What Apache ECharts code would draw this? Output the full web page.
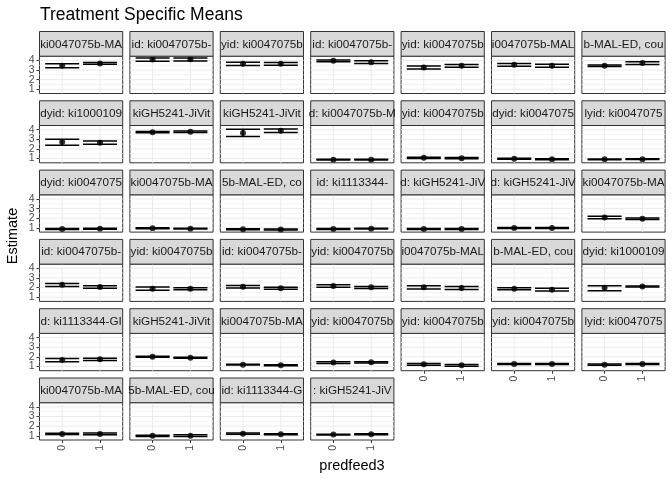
<!DOCTYPE html>
<html><head><meta charset="utf-8">
<script src="https://cdn.jsdelivr.net/npm/echarts@6/dist/echarts.min.js"></script>
<style>html,body{margin:0;padding:0;background:#fff}#c{width:672px;height:480px}</style>
</head><body><div id="c"></div>
<script>
// ---- data ----
const titleText = 'Treatment Specific Means';
const xTitle = 'predfeed3';
const yTitle = 'Estimate';
const xCategories = ['0', '1'];
const yTicks = [1, 2, 3, 4];
const minorY = [1.5, 2.5, 3.5];
const stripLabels = [
  'ki0047075b-MA', 'id: ki0047075b-', 'yid: ki0047075b', 'id: ki0047075b-', 'yid: ki0047075b', 'i0047075b-MAL', 'b-MAL-ED, cou',
  'dyid: ki1000109', 'kiGH5241-JiVit', 'kiGH5241-JiVit', 'd: ki0047075b-M', 'yid: ki0047075b', 'dyid: ki0047075', 'lyid: ki0047075',
  'dyid: ki0047075', 'ki0047075b-MA', '5b-MAL-ED, co', 'id: ki1113344-', 'd: kiGH5241-JiV', 'd: kiGH5241-JiV', 'ki0047075b-MA',
  'id: ki0047075b-', 'yid: ki0047075b', 'id: ki0047075b-', 'yid: ki0047075b', 'i0047075b-MAL', 'b-MAL-ED, cou', 'dyid: ki1000109',
  'd: ki1113344-GI', 'kiGH5241-JiVit', 'ki0047075b-MA', 'yid: ki0047075b', 'yid: ki0047075b', 'yid: ki0047075b', 'lyid: ki0047075',
  'ki0047075b-MA', '5b-MAL-ED, cou', 'id: ki1113344-G', ': kiGH5241-JiV'
];
const est0 = [3.44, 4.10, 3.65, 3.96, 3.27, 3.54, 3.44,
              2.72, 3.75, 3.65, 0.89, 1.08, 0.99, 0.92,
              0.89, 0.95, 0.85, 0.89, 0.89, 0.98, 2.09,
              2.30, 1.88, 2.09, 2.16, 2.02, 1.88, 1.98,
              1.67, 2.02, 1.19, 1.40, 1.22, 1.26, 1.19,
              1.19, 0.99, 1.22, 1.12];
const lo0 = [3.25, 3.92, 3.48, 3.85, 3.12, 3.40, 3.36,
             2.38, 3.68, 3.30, 0.84, 1.02, 0.94, 0.88,
             0.84, 0.90, 0.80, 0.84, 0.84, 0.93, 1.96,
             2.10, 1.72, 1.95, 2.02, 1.84, 1.78, 1.67,
             1.50, 1.97, 1.14, 1.30, 1.12, 1.20, 1.13,
             1.12, 0.92, 1.16, 1.07];
const hi0 = [3.65, 4.24, 3.80, 4.05, 3.42, 3.68, 3.52,
             3.02, 3.82, 4.06, 0.94, 1.14, 1.04, 0.96,
             0.94, 1.00, 0.90, 0.94, 0.94, 1.03, 2.20,
             2.43, 2.05, 2.22, 2.30, 2.18, 1.98, 2.20,
             1.84, 2.07, 1.24, 1.50, 1.30, 1.32, 1.25,
             1.26, 1.06, 1.28, 1.17];
const est1 = [3.68, 4.12, 3.65, 3.82, 3.44, 3.44, 3.72,
              2.65, 3.79, 3.89, 0.89, 1.04, 0.92, 0.94,
              0.90, 0.92, 0.82, 0.92, 0.89, 0.99, 1.95,
              2.06, 1.88, 1.92, 2.02, 1.95, 1.76, 2.10,
              1.74, 1.91, 1.12, 1.43, 1.12, 1.26, 1.26,
              1.19, 1.01, 1.15, 1.15];
const lo1 = [3.60, 3.95, 3.50, 3.67, 3.30, 3.28, 3.58,
             2.48, 3.72, 3.70, 0.84, 0.98, 0.87, 0.90,
             0.85, 0.87, 0.77, 0.87, 0.84, 0.94, 1.88,
             1.92, 1.78, 1.82, 1.90, 1.80, 1.64, 2.05,
             1.62, 1.86, 1.07, 1.36, 1.03, 1.20, 1.20,
             1.10, 0.92, 1.10, 1.10];
const hi1 = [3.78, 4.25, 3.78, 3.97, 3.58, 3.60, 3.86,
             2.82, 3.86, 4.08, 0.94, 1.10, 0.97, 0.98,
             0.95, 0.97, 0.87, 0.97, 0.94, 1.04, 2.02,
             2.19, 1.98, 2.02, 2.12, 2.10, 1.93, 2.16,
             1.85, 1.96, 1.17, 1.50, 1.20, 1.32, 1.32,
             1.28, 1.10, 1.20, 1.20];

// ---- layout ----
const FONT = '"Liberation Sans", Arial, Helvetica, sans-serif';
const NCOL = 7;
const PW = 83.2, PH = 37.3;
const colLeft = c => 39.5 + 90.4 * c;
const stripTop = r => 31.5 + 69.3 * r;
const plotTop = r => 56.2 + 69.3 * r;
const XMIN = -0.6, XMAX = 1.6, YMIN = 0.56, YMAX = 4.44, EBW = 0.45;

// grid lines: [orientation (0 = horizontal, 1 = vertical), value, isMinor]
const gridLineData = [].concat(
  yTicks.map(v => [0, v, 0]),
  minorY.map(v => [0, v, 1]),
  xCategories.map((s, k) => [1, k, 0])
);

const grids = [], xAxes = [], yAxes = [], series = [], graphics = [];
const n = stripLabels.length;
for (let i = 0; i < n; i++) {
  const r = Math.floor(i / NCOL), c = i % NCOL;
  const showY = c === 0;
  const showX = r === 5 || (r === 4 && c >= 4);
  grids.push({left: colLeft(c), top: plotTop(r), width: PW, height: PH, show: true,
    borderColor: '#333333', borderWidth: 1, backgroundColor: '#ffffff'});
  xAxes.push({gridIndex: i, type: 'value', min: XMIN, max: XMAX, position: 'bottom',
    axisLine: {show: false, onZero: false},
    axisTick: {show: showX, customValues: [0, 1], length: 3, lineStyle: {color: '#333333', width: 1}},
    axisLabel: {show: showX, customValues: [0, 1], rotate: 90, margin: 5, fontSize: 10.5,
      showMinLabel: true, showMaxLabel: true, hideOverlap: false,
      color: '#4D4D4D', fontFamily: FONT, formatter: v => xCategories[Math.round(v)]},
    splitLine: {show: false}});
  const yMain = yAxes.length;
  yAxes.push({gridIndex: i, type: 'value', min: YMIN, max: YMAX, position: 'left',
    axisLine: {show: false, onZero: false},
    axisTick: {show: showY, customValues: yTicks, length: 3, lineStyle: {color: '#333333', width: 1}},
    axisLabel: {show: showY, customValues: yTicks.filter((v, k) => k % 2 === 1), margin: 5, fontSize: 10.5,
      showMinLabel: true, showMaxLabel: true, hideOverlap: false,
      color: '#4D4D4D', fontFamily: FONT},
    splitLine: {show: false}});
  if (showY) {
    // second label-only axis for the other half of the tick labels
    yAxes.push({gridIndex: i, type: 'value', min: YMIN, max: YMAX, position: 'left', offset: 0,
      axisLine: {show: false, onZero: false}, axisTick: {show: false, customValues: yTicks.filter((v, k) => k % 2 === 0)},
      splitLine: {show: false},
      axisLabel: {show: true, customValues: yTicks.filter((v, k) => k % 2 === 0), margin: 5, fontSize: 10.5,
        showMinLabel: true, showMaxLabel: true, hideOverlap: false,
        color: '#4D4D4D', fontFamily: FONT}});
  }
  // grid lines (major + minor)
  series.push({type: 'custom', xAxisIndex: i, yAxisIndex: yMain, silent: true, z: 1,
    data: gridLineData.map(d => d[0] === 0 ? [0, d[1], d[0], d[2]] : [d[1], 1, d[0], d[2]]),
    encode: {x: 0, y: 1},
    renderItem: (p, api) => {
      const vert = api.value(2) === 1, minor = api.value(3) === 1;
      let a, b;
      if (vert) { const v = api.value(0); a = api.coord([v, YMIN]); b = api.coord([v, YMAX]); }
      else { const v = api.value(1); a = api.coord([XMIN, v]); b = api.coord([XMAX, v]); }
      return {type: 'line', shape: {x1: a[0], y1: a[1], x2: b[0], y2: b[1]},
        style: {stroke: minor ? '#F4F4F4' : '#EBEBEB', lineWidth: 1}};
    }});
  // error bars
  series.push({type: 'custom', xAxisIndex: i, yAxisIndex: yMain, silent: true, z: 3,
    data: [[0, lo0[i], hi0[i]], [1, lo1[i], hi1[i]]],
    encode: {x: 0, y: [1, 2]},
    renderItem: (p, api) => {
      const x = api.value(0), lo = api.value(1), hi = api.value(2);
      const tl = api.coord([x - EBW, hi]), tr = api.coord([x + EBW, hi]);
      const bl = api.coord([x - EBW, lo]), br = api.coord([x + EBW, lo]);
      const vt = api.coord([x, hi]), vb = api.coord([x, lo]);
      const st = {stroke: '#000000', lineWidth: 1.5};
      return {type: 'group', children: [
        {type: 'line', shape: {x1: tl[0], y1: tl[1], x2: tr[0], y2: tr[1]}, style: st},
        {type: 'line', shape: {x1: bl[0], y1: bl[1], x2: br[0], y2: br[1]}, style: st},
        {type: 'line', shape: {x1: vt[0], y1: vt[1], x2: vb[0], y2: vb[1]}, style: st}
      ]};
    }});
  // points
  series.push({type: 'scatter', xAxisIndex: i, yAxisIndex: yMain, silent: true, z: 5,
    symbolSize: 6, itemStyle: {color: '#000000'},
    data: [[0, est0[i]], [1, est1[i]]]});
  // strip
  graphics.push({type: 'rect', silent: true, z: 10,
    shape: {x: colLeft(c), y: stripTop(r), width: PW, height: plotTop(r) - stripTop(r)},
    style: {fill: '#D9D9D9', stroke: '#333333', lineWidth: 1}});
  graphics.push({type: 'text', silent: true, z: 11,
    x: colLeft(c) + PW / 2, y: (stripTop(r) + plotTop(r)) / 2 + 0.5,
    style: {text: stripLabels[i], align: 'center', verticalAlign: 'middle',
      fontSize: 11.7, fill: '#1A1A1A', fontFamily: FONT}});
}
graphics.push({type: 'text', silent: true, x: 40, y: 15,
  style: {text: titleText, align: 'left', verticalAlign: 'middle', fontSize: 17.5, fill: '#000000', fontFamily: FONT}});
graphics.push({type: 'text', silent: true, x: 352, y: 466,
  style: {text: xTitle, align: 'center', verticalAlign: 'middle', fontSize: 14.5, fill: '#000000', fontFamily: FONT}});
graphics.push({type: 'text', silent: true, x: 13, y: 236, rotation: Math.PI / 2,
  style: {text: yTitle, align: 'center', verticalAlign: 'middle', fontSize: 14.5, fill: '#000000', fontFamily: FONT}});

const chart = echarts.init(document.getElementById('c'), null, {renderer: 'canvas'});
chart.setOption({
  animation: false,
  backgroundColor: '#ffffff',
  grid: grids, xAxis: xAxes, yAxis: yAxes, series: series,
  graphic: {elements: graphics}
});
</script></body></html>
